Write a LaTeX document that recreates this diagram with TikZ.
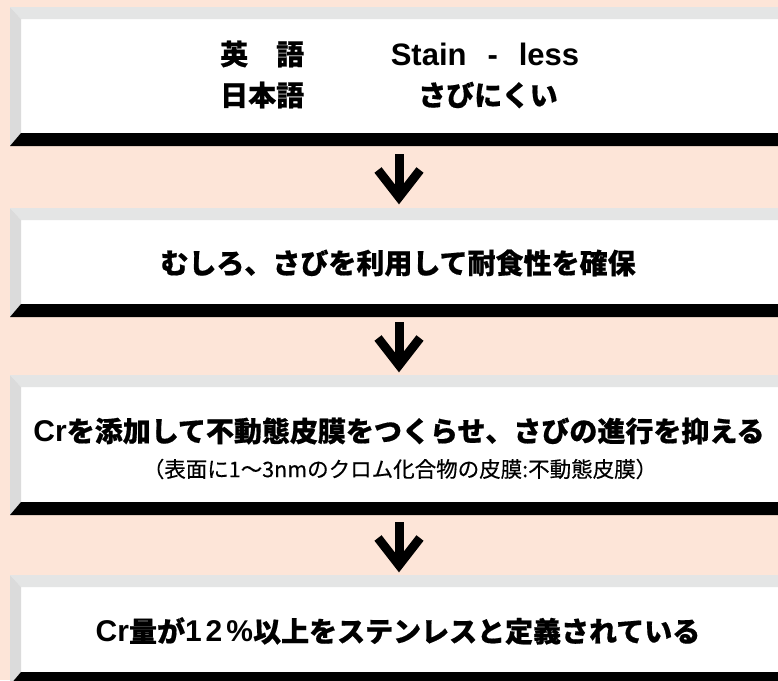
\documentclass[tikz,border=0pt]{standalone}
\usepackage{fontspec}
\setmainfont{Liberation Sans}
\newfontfamily\jp{Noto Sans CJK JP}[BoldFeatures={FakeBold=0.6}]
\newfontfamily\jps{Noto Sans CJK JP}[FakeBold=0.4]
\newfontfamily\la{Liberation Sans}
\definecolor{bg}{HTML}{FDE5D8}
\definecolor{bevtop}{HTML}{E4E5E5}
\definecolor{bevleft}{HTML}{DBDBDB}
\newcommand\bevbox[2]{%
  \fill[white] (10,#1) rectangle (800,#2);
  \fill[bevtop] (10,#1) -- (800,#1) -- (800,#1+12) -- (21,#1+12) -- cycle;
  \fill[bevleft] (10,#1) -- (21,#1+12) -- (21,#2-13) -- (10,#2) -- cycle;
  \fill[black] (10,#2) -- (21,#2-13) -- (800,#2-13) -- (800,#2) -- cycle;
}
\newcommand\downarr[2]{%
  \fill[black] (#1-4.5,#2) rectangle (#1+4.5,#2+38);
  \draw[black, line width=9pt, line join=miter, miter limit=10]
    (#1-21,#2+16) -- (#1,#2+43) -- (#1+21,#2+16);
}
\tikzset{
  big/.style={inner sep=0pt, font=\jp\bfseries\fontsize{28}{32}\selectfont},
  small/.style={inner sep=0pt, font=\jps\fontsize{21.5}{24}\selectfont},
}
\begin{document}
\begin{tikzpicture}[x=1pt,y=-1pt]
\fill[bg] (0,0) rectangle (778,680);
\useasboundingbox (0,0) rectangle (778,680);
\clip (0,0) rectangle (778,680);

\bevbox{7}{146}
\bevbox{208}{317}
\bevbox{375}{515}
\bevbox{575}{685}

\downarr{399}{154}
\downarr{399}{322}
\downarr{399}{522}

% box 1
\node[big, anchor=west] (eigo) at (220,54) {英　語};
\node[big, anchor=west] (nihongo) at (220,95) {日本語};
\node[big, font=\la\bfseries\fontsize{31}{34}\selectfont] (stain) at (485,54) {Stain\hspace{21pt}-\hspace{21pt}less};
\node[big] (sabi) at (488,95) {さびにくい};

% box 2
\node[big] (t2) at (398,263) {むしろ、さびを利用して耐食性を確保};

% box 3
\node[big] (t3) at (399,431) {{\la\bfseries\fontsize{30}{34}\selectfont Cr}を添加して不動態皮膜をつくらせ、さびの進行を抑える};
\node[small] (t3b) at (400,469) {（表面に1〜3nmのクロム化合物の皮膜:不動態皮膜）};

% box 4
\node[big] (t4) at (398,631) {{\la\bfseries\fontsize{30}{34}\selectfont Cr}量が{\la\bfseries\fontsize{30}{34}\selectfont 1\kern4pt2\kern4pt\%}以上をステンレスと定義されている};
\end{tikzpicture}
\end{document}
